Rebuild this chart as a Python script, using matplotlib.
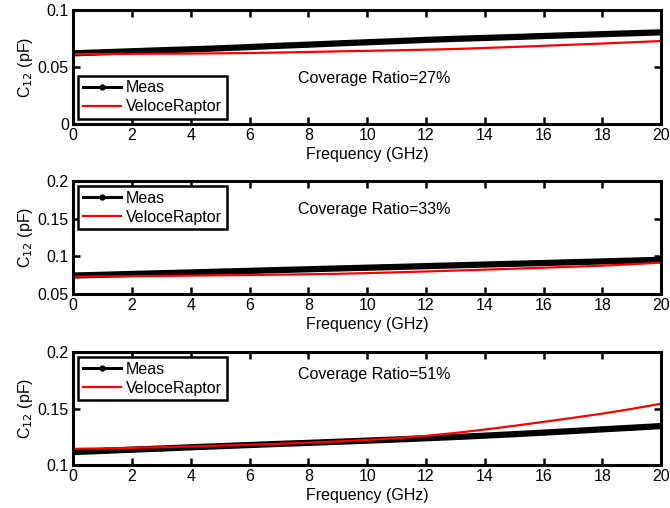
import numpy as np
import matplotlib
matplotlib.use("Agg")
import matplotlib.pyplot as plt

plt.rcParams['font.family'] = ['Liberation Sans', 'DejaVu Sans']
plt.rcParams['font.size'] = 11.5

# frecuencia (GHz)
freq = list(range(0, 21))

# cobertura 27%
meas_27 = [0.0620, 0.0629, 0.0638, 0.0647, 0.0655, 0.0664, 0.0675, 0.0686, 0.0696, 0.0707, 0.0717,
           0.0727, 0.0738, 0.0747, 0.0755, 0.0763, 0.0772, 0.0780, 0.0788, 0.0796, 0.0804]
vr_27 = [0.0614, 0.0615, 0.0616, 0.0617, 0.0618, 0.0620, 0.0623, 0.0627, 0.0632, 0.0637, 0.0642,
         0.0647, 0.0652, 0.0658, 0.0667, 0.0676, 0.0686, 0.0696, 0.0706, 0.0717, 0.0728]

# cobertura 33%
meas_33 = [0.0745, 0.0755, 0.0766, 0.0776, 0.0786, 0.0797, 0.0807, 0.0818, 0.0828, 0.0839, 0.0849,
           0.0859, 0.0870, 0.0880, 0.0891, 0.0901, 0.0911, 0.0922, 0.0932, 0.0943, 0.0953]
vr_33 = [0.0730, 0.0733, 0.0736, 0.0740, 0.0744, 0.0748, 0.0752, 0.0757, 0.0762, 0.0768, 0.0777,
         0.0788, 0.0799, 0.0811, 0.0823, 0.0836, 0.0849, 0.0862, 0.0876, 0.0895, 0.0917]

# cobertura 51%
meas_51 = [0.1115, 0.1125, 0.1136, 0.1146, 0.1157, 0.1167, 0.1177, 0.1187, 0.1196, 0.1206, 0.1216,
           0.1226, 0.1237, 0.1248, 0.1260, 0.1273, 0.1287, 0.1301, 0.1316, 0.1330, 0.1345]
vr_51 = [0.1143, 0.1147, 0.1152, 0.1158, 0.1165, 0.1172, 0.1180, 0.1188, 0.1198, 0.1209, 0.1222,
         0.1238, 0.1258, 0.1284, 0.1314, 0.1347, 0.1382, 0.1418, 0.1455, 0.1497, 0.1543]

datos = [
    (meas_27, vr_27, 'Coverage Ratio=27%', (0, 0.1), [0, 0.05, 0.1], ['0', '0.05', '0.1'], 'lower left', 0.40),
    (meas_33, vr_33, 'Coverage Ratio=33%', (0.05, 0.2), [0.05, 0.1, 0.15, 0.2], ['0.05', '0.1', '0.15', '0.2'], 'upper left', 0.75),
    (meas_51, vr_51, 'Coverage Ratio=51%', (0.1, 0.2), [0.1, 0.15, 0.2], ['0.1', '0.15', '0.2'], 'upper left', 0.805),
]

fig = plt.figure(figsize=(6.7, 5.08), dpi=100)
posiciones = [(0.7559, 0.2244), (0.4213, 0.2224), (0.0846, 0.2224)]

for (meas, vr, titulo, ylim, yt, ytl, loc, ty), (b, h) in zip(datos, posiciones):
    ax = fig.add_axes([0.109, b, 0.878, h])
    ax.plot(freq, meas, 'k.-', lw=4.5, ms=4, label='Meas')
    ax.plot(freq, vr, 'r-', lw=1.6, label='VeloceRaptor')
    ax.set_xlim(0, 20)
    ax.set_ylim(*ylim)
    ax.set_xticks(range(0, 21, 2))
    ax.set_yticks(yt)
    ax.set_yticklabels(ytl)
    ax.tick_params(direction='in', top=True, right=True, length=5, width=1.8, pad=3)
    for s in ax.spines.values():
        s.set_linewidth(2.2)
    ax.set_xlabel('Frequency (GHz)', labelpad=3)
    ax.set_ylabel('C$_{12}$ (pF)', labelpad=2)
    ax.text(0.383, ty, titulo, transform=ax.transAxes, va='center')
    leg = ax.legend(loc=loc, fancybox=False, edgecolor='k', framealpha=1,
                    borderaxespad=0.3, handlelength=2.4, handletextpad=0.3,
                    borderpad=0.3, labelspacing=0.25)
    leg.get_frame().set_linewidth(1.8)
    leg.legend_handles[0].set_linewidth(2.2)
    leg.legend_handles[0].set_markersize(7)

fig.savefig('out.png', dpi=100)
